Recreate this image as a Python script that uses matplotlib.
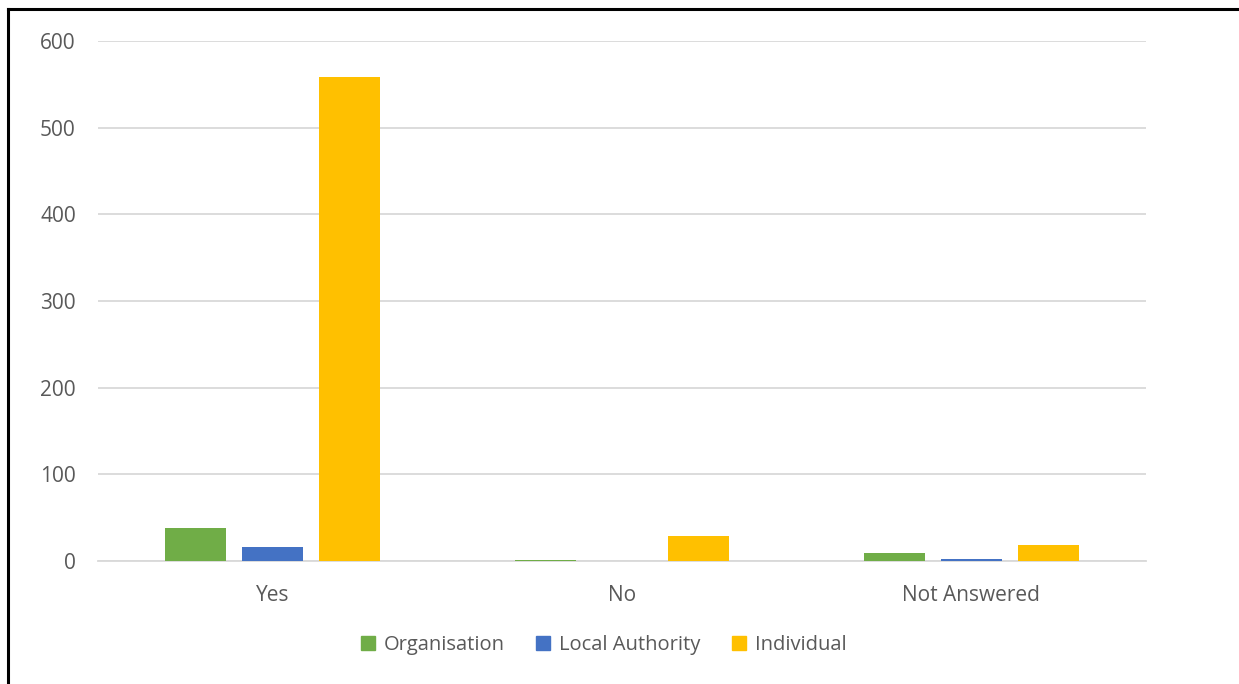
import numpy as np
import matplotlib.pyplot as plt
from matplotlib.lines import Line2D

# data
categorias = ['Yes', 'No', 'Not Answered']
organisation = [38, 1, 9]
local_authority = [16, 0, 2]
individual = [558, 29, 18]
series_names = ['Organisation', 'Local Authority', 'Individual']
colores = ['#70ad47', '#4472c4', '#ffc000']

plt.rcParams['font.family'] = ['Open Sans', 'DejaVu Sans']

fig = plt.figure(figsize=(12.39, 6.84), dpi=100)
ax = fig.add_axes([98 / 1239, 1 - 561 / 684, (1146 - 98) / 1239, (561 - 41) / 684])

x = np.arange(len(categorias))
ancho = 0.175
paso = 0.22
for i, (vals, nombre, c) in enumerate(zip([organisation, local_authority, individual],
                                          series_names, colores)):
    ax.bar(x + (i - 1) * paso, vals, width=ancho, color=c, label=nombre, zorder=3)

ax.set_xlim(-0.5, 2.5)
ax.set_ylim(0, 600)
ax.set_yticks(range(0, 601, 100))
ax.set_xticks(x)
ax.set_xticklabels(categorias)
ax.grid(axis='y', color='#d9d9d9', linewidth=1.3, zorder=0)
for s in ['top', 'right', 'left']:
    ax.spines[s].set_visible(False)
ax.spines['bottom'].set_color('#d9d9d9')
ax.spines['bottom'].set_linewidth(1.3)
ax.tick_params(axis='both', length=0, labelsize=15, labelcolor='#595959')
ax.tick_params(axis='x', pad=17)
ax.tick_params(axis='y', pad=16)

handles = [Line2D([], [], marker='s', linestyle='', markersize=10, color=c) for c in colores]
fig.legend(handles, series_names, loc='center', bbox_to_anchor=(597 / 1239, 1 - 645 / 684),
           ncol=3, frameon=False, fontsize=14.5, labelcolor='#595959',
           handletextpad=-0.2, columnspacing=0.9)

# marco de la imagen (solo arriba e izquierda visibles)
fig.add_artist(Line2D([8 / 1239, 1], [1 - 9 / 684, 1 - 9 / 684], color='black', linewidth=2.2))
fig.add_artist(Line2D([8 / 1239, 8 / 1239], [0, 1 - 9 / 684], color='black', linewidth=2.2))

fig.savefig('out.png', dpi=100)
